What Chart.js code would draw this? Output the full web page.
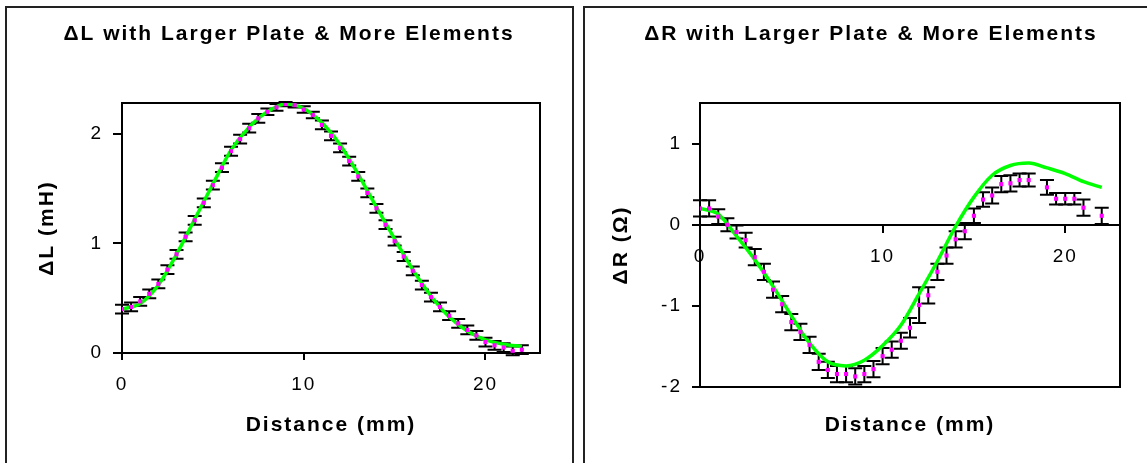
<!DOCTYPE html>
<html><head><meta charset="utf-8">
<script src="https://cdn.jsdelivr.net/npm/chart.js@4.4.0/dist/chart.umd.min.js"></script>
<style>
html,body{margin:0;padding:0;background:#fff;width:1147px;height:463px;overflow:hidden;position:relative}
.panel{position:absolute;top:6px;height:600px;border:2px solid #222;box-sizing:border-box}
#p1{left:5px;width:569px}
#p2{left:583px;width:700px}
canvas{position:absolute;top:0}
#c1{left:0}
#c2{left:578px}
</style></head>
<body>
<div class="panel" id="p1"></div>
<div class="panel" id="p2"></div>
<canvas id="c1" width="578" height="463"></canvas>
<canvas id="c2" width="586" height="463"></canvas>
<script>
// ---------- data ----------
const xTicks = [0, 10, 20];
const yTicksL = [0, 1, 2];
const yTicksR = [-2, -1, 0, 1];

// ΔL measured (every 0.5 mm)
const xL = [0,0.5,1,1.5,2,2.5,3,3.5,4,4.5,5,5.5,6,6.5,7,7.5,8,8.5,9,9.5,10,10.5,11,11.5,12,12.5,13,13.5,14,14.5,15,15.5,16,16.5,17,17.5,18,18.5,19,19.5,20,20.5,21,21.5,22];
const dL = [0.40,0.42,0.47,0.54,0.63,0.76,0.90,1.06,1.21,1.37,1.53,1.69,1.84,1.95,2.05,2.14,2.20,2.24,2.27,2.26,2.22,2.17,2.08,1.98,1.87,1.75,1.61,1.46,1.32,1.17,1.02,0.88,0.75,0.62,0.51,0.42,0.34,0.27,0.21,0.16,0.10,0.07,0.05,0.02,0.03];
const eL = [0.04,0.04,0.04,0.04,0.04,0.04,0.04,0.04,0.04,0.04,0.04,0.04,0.04,0.04,0.04,0.04,0.03,0.03,0.02,0.02,0.03,0.03,0.04,0.04,0.04,0.04,0.04,0.04,0.04,0.04,0.04,0.04,0.04,0.04,0.04,0.04,0.04,0.04,0.04,0.04,0.04,0.04,0.04,0.04,0.04];
// ΔL simulated
const simXL = [0,1,2,3,4,5,6,7,8,9,10,11,12,13,14,15,16,17,18,19,20,21,22];
const simL = [0.40,0.45,0.62,0.90,1.22,1.54,1.85,2.06,2.20,2.27,2.23,2.10,1.90,1.63,1.33,1.04,0.76,0.52,0.33,0.20,0.12,0.08,0.06];

// ΔR measured
const xR = [0,0.5,1,1.5,2,2.5,3,3.5,4,4.5,5,5.5,6,6.5,7,7.5,8,8.5,9,9.5,10,10.5,11,11.5,12,12.5,13,13.5,14,14.5,15,15.5,16,16.5,17,17.5,18,19,19.5,20,20.5,21,22];
const dR = [0.20,0.20,0.10,0.00,-0.09,-0.19,-0.40,-0.58,-0.80,-0.98,-1.20,-1.32,-1.48,-1.69,-1.79,-1.84,-1.84,-1.87,-1.84,-1.78,-1.62,-1.54,-1.43,-1.27,-0.99,-0.87,-0.58,-0.38,-0.18,-0.08,0.11,0.31,0.36,0.50,0.51,0.55,0.55,0.46,0.32,0.32,0.32,0.21,0.11];
const eR = [0.10,0.10,0.09,0.08,0.08,0.09,0.10,0.10,0.10,0.10,0.10,0.10,0.10,0.10,0.10,0.10,0.10,0.10,0.10,0.10,0.10,0.10,0.10,0.12,0.22,0.10,0.10,0.10,0.10,0.10,0.09,0.09,0.10,0.10,0.10,0.08,0.08,0.09,0.07,0.07,0.07,0.10,0.10];
// ΔR simulated
const simXR = [0,1,2,3,4,5,6,7,8,9,10,11,12,13,14,15,16,17,18,19,20,21,22];
const simR = [0.20,0.13,-0.14,-0.43,-0.76,-1.12,-1.46,-1.69,-1.74,-1.67,-1.49,-1.24,-0.85,-0.45,-0.02,0.34,0.61,0.73,0.76,0.70,0.63,0.53,0.46];

// ---------- styling helpers ----------
const FONT = "'Liberation Sans', Arial, Helvetica, sans-serif";
const tickFont = {family: FONT, size: 19, weight: 'normal', lineHeight: 1.2};
const boldFont = {family: FONT, size: 21, weight: 'bold', lineHeight: 1.2};
const TXT = '#000';
const setTicks = arr => s => { s.ticks = arr.map(v => ({value: v})); };

const spacing = { id: 'spacing', beforeDraw(chart) { chart.ctx.letterSpacing = '2px'; } };
const frame = {
  id: 'frame',
  beforeDatasetsDraw(chart) {
    const {ctx, chartArea: a} = chart;
    ctx.save(); ctx.strokeStyle = '#000'; ctx.lineWidth = 2;
    ctx.strokeRect(a.left, a.top, a.right - a.left, a.bottom - a.top);
    ctx.restore();
  }
};
const errorBars = {
  id: 'errorBars',
  beforeDatasetsDraw(chart, args, opts) {
    const {ctx, scales: {x, y}} = chart;
    ctx.save(); ctx.strokeStyle = '#000'; ctx.lineWidth = 2;
    opts.xs.forEach((xv, i) => {
      const px = x.getPixelForValue(xv);
      const t = y.getPixelForValue(opts.ys[i] + opts.errs[i]);
      const b = y.getPixelForValue(opts.ys[i] - opts.errs[i]);
      ctx.beginPath();
      ctx.moveTo(px, t); ctx.lineTo(px, b);
      ctx.moveTo(px - 7, t); ctx.lineTo(px + 7, t);
      ctx.moveTo(px - 7, b); ctx.lineTo(px + 7, b);
      ctx.stroke();
    });
    ctx.restore();
  }
};

function datasets(xs, ys, sx, sy) {
  return [
    {label: 'Measured', data: xs.map((x, i) => ({x, y: ys[i]})), showLine: false,
     pointStyle: 'rect', pointRadius: 2.9, pointBackgroundColor: '#ff00ff', pointBorderWidth: 0, order: 0},
    {label: 'Simulated', data: sx.map((x, i) => ({x, y: sy[i]})), borderColor: '#00ff00', borderWidth: 3.5,
     pointRadius: 0, cubicInterpolationMode: 'monotone', order: 1}
  ];
}
const axisGrid = len => ({drawOnChartArea: false, drawTicks: true, tickLength: len, color: '#000', lineWidth: 2});
const axisBorder = {display: true, color: '#000', width: 2};
const spacer = w => ({type: 'linear', position: 'right', display: true, grid: {display: false}, border: {display: false},
                      ticks: {display: false}, afterFit: s => { s.width = w; }});

// ---------- left chart ----------
new Chart(document.getElementById('c1'), {
  type: 'line',
  data: {datasets: datasets(xL, dL, simXL, simL)},
  options: {
    responsive: false, animation: false, devicePixelRatio: 1,
    layout: {padding: 0},
    plugins: {
      legend: {display: false}, tooltip: {enabled: false},
      title: {display: true, text: 'ΔL with Larger Plate & More Elements', font: boldFont, color: TXT, padding: {top: 21.4, bottom: 56.4}},
      errorBars: {xs: xL, ys: dL, errs: eL}
    },
    scales: {
      x: {type: 'linear', min: 0, max: 23, position: 'bottom', afterBuildTicks: setTicks(xTicks), afterFit: s => { s.height = 110; },
          grid: axisGrid(7), border: axisBorder,
          ticks: {font: tickFont, color: TXT, padding: 13.6, maxRotation: 0, autoSkip: false},
          title: {display: true, text: 'Distance (mm)', font: boldFont, color: TXT, padding: {top: 0, bottom: 25.4}}},
      y: {type: 'linear', min: 0, max: 2.28, position: 'left', afterBuildTicks: setTicks(yTicksL), afterFit: s => { s.width = 122; },
          grid: axisGrid(9), border: axisBorder,
          ticks: {font: tickFont, color: TXT, padding: 10},
          title: {display: true, text: 'ΔL (mH)', font: boldFont, color: TXT, padding: {top: 34.4, bottom: 0}}},
      yr: spacer(38)
    }
  },
  plugins: [spacing, frame, errorBars]
});

// ---------- right chart ----------
new Chart(document.getElementById('c2'), {
  type: 'line',
  data: {datasets: datasets(xR, dR, simXR, simR)},
  options: {
    responsive: false, animation: false, devicePixelRatio: 1,
    layout: {padding: 0},
    plugins: {
      legend: {display: false}, tooltip: {enabled: false},
      title: {display: true, text: 'ΔR with Larger Plate & More Elements', font: boldFont, color: TXT, padding: {top: 21.4, bottom: 56.4}},
      errorBars: {xs: xR, ys: dR, errs: eR}
    },
    scales: {
      x: {type: 'linear', min: 0, max: 23, position: {y: 0}, afterBuildTicks: setTicks(xTicks),
          grid: axisGrid(7), border: axisBorder,
          ticks: {font: tickFont, color: TXT, padding: 13.6, maxRotation: 0, autoSkip: false}},
      xb: {type: 'linear', min: 0, max: 23, position: 'bottom', afterFit: s => { s.height = 76; },
          grid: {display: false}, border: {display: false}, ticks: {display: false},
          title: {display: true, text: 'Distance (mm)', font: boldFont, color: TXT, padding: {top: 0, bottom: 25.4}}},
      y: {type: 'linear', min: -2, max: 1.5, position: 'left', afterBuildTicks: setTicks(yTicksR), afterFit: s => { s.width = 122; },
          grid: axisGrid(8), border: axisBorder,
          ticks: {font: tickFont, color: TXT, padding: 10},
          title: {display: true, text: 'ΔR (Ω)', font: boldFont, color: TXT, padding: {top: 30.9, bottom: 0}}},
      yr: spacer(44)
    }
  },
  plugins: [spacing, frame, errorBars]
});
</script>
</body></html>
